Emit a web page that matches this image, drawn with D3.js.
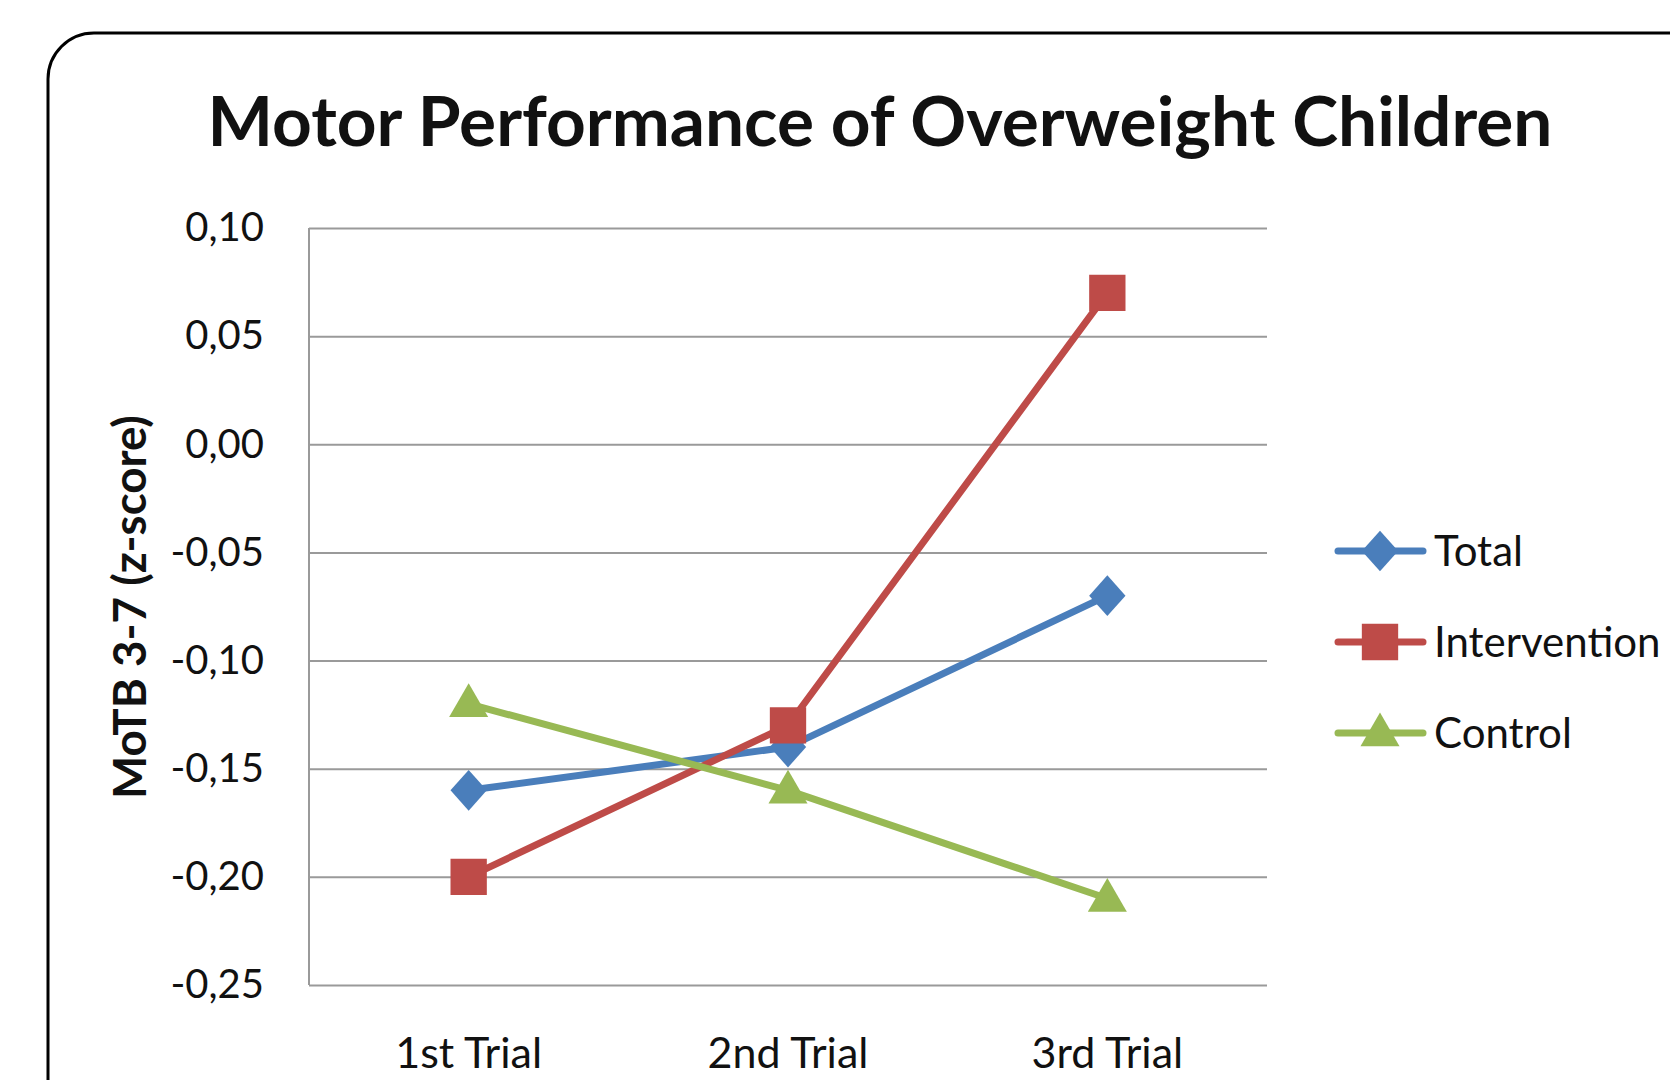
<!DOCTYPE html>
<html>
<head>
<meta charset="utf-8">
<script src="https://cdn.jsdelivr.net/npm/d3@7"></script>
<style>
  body { margin: 0; background: #fff; }
  text { font-family: Lato, "Open Sans", sans-serif; fill: #111; }
</style>
</head>
<body>
<div id="chart"></div>
<script>
// Chart data
const trials = ["1st Trial", "2nd Trial", "3rd Trial"];
const totalValues = [-0.16, -0.14, -0.07];
const interventionValues = [-0.20, -0.13, 0.07];
const controlValues = [-0.12, -0.16, -0.21];
const yTicks = [-0.25, -0.20, -0.15, -0.10, -0.05, 0.00, 0.05, 0.10];

const seriesNames = ["Total", "Intervention", "Control"];
const seriesValues = [totalValues, interventionValues, controlValues];
const seriesColors = ["#4A7EBB", "#BE4B48", "#98B954"];
const seriesShapes = ["diamond", "square", "triangle"];

const width = 1670;
const height = 1080;
const plot = { left: 309, right: 1267, top: 228, bottom: 985 };

const svg = d3.select("#chart").append("svg")
    .attr("width", width)
    .attr("height", height);

// outer rounded frame (only top-left corner visible)
svg.append("rect")
    .attr("x", 48).attr("y", 33)
    .attr("width", 1800).attr("height", 1300)
    .attr("rx", 46)
    .attr("fill", "none")
    .attr("stroke", "#000")
    .attr("stroke-width", 3);

const x = d3.scalePoint().domain(trials).range([plot.left, plot.right]).padding(0.5);
const y = d3.scaleLinear().domain([-0.25, 0.10]).range([plot.bottom, plot.top]);

const fmt = v => (v < -1e-9 ? "-" : "") + Math.abs(v).toFixed(2).replace(".", ",");

// gridlines + y labels
const yAxis = svg.append("g")
    .attr("transform", `translate(${plot.left},0)`)
    .call(d3.axisLeft(y).tickValues(yTicks).tickSize(-(plot.right - plot.left)).tickFormat(fmt).tickPadding(45));
yAxis.select(".domain").remove();
yAxis.selectAll(".tick line").attr("stroke", "#9a9a9a").attr("stroke-width", 2);
yAxis.selectAll(".tick text")
    .style("font-size", "40px")
    .style("font-family", "Lato, sans-serif")
    .attr("fill", "#222");

// left axis line
svg.append("line")
    .attr("x1", plot.left).attr("x2", plot.left)
    .attr("y1", plot.top).attr("y2", plot.bottom)
    .attr("stroke", "#9a9a9a").attr("stroke-width", 2);

// x labels
svg.append("g").selectAll("text")
    .data(trials)
    .join("text")
    .attr("x", d => x(d))
    .attr("y", 1068)
    .attr("text-anchor", "middle")
    .style("font-size", "43px")
    .text(d => d);

// marker shapes
function marker(shape) {
    if (shape === "square") return d3.symbol().type(d3.symbolSquare).size(1320)();
    if (shape === "triangle") return d3.symbol().type(d3.symbolTriangle).size(660)();
    return d3.symbol().type(d3.symbolSquare).size(660)();
}
function markerTransform(shape, cx, cy) {
    if (shape === "diamond") return `translate(${cx},${cy}) scale(1,1.12) rotate(45)`;
    if (shape === "triangle") return `translate(${cx},${cy + 2})`;
    return `translate(${cx},${cy})`;
}

const line = d3.line().x((d, i) => x(trials[i])).y(d => y(d));

seriesValues.forEach((vals, s) => {
    const g = svg.append("g");
    g.append("path")
        .datum(vals)
        .attr("d", line)
        .attr("fill", "none")
        .attr("stroke", seriesColors[s])
        .attr("stroke-width", 7)
        .attr("stroke-linejoin", "round");
    g.selectAll("path.mk")
        .data(vals)
        .join("path")
        .attr("class", "mk")
        .attr("d", marker(seriesShapes[s]))
        .attr("transform", (d, i) => markerTransform(seriesShapes[s], x(trials[i]), y(d)))
        .attr("fill", seriesColors[s]);
});

// legend
const legendY = [551, 642, 733];
seriesNames.forEach((name, s) => {
    const g = svg.append("g").attr("transform", `translate(0,${legendY[s]})`);
    g.append("line")
        .attr("x1", 1338).attr("x2", 1423)
        .attr("stroke", seriesColors[s])
        .attr("stroke-width", 7)
        .attr("stroke-linecap", "round");
    g.append("path")
        .attr("d", marker(seriesShapes[s]))
        .attr("transform", markerTransform(seriesShapes[s], 1380, 0))
        .attr("fill", seriesColors[s]);
    g.append("text")
        .attr("x", 1434)
        .attr("dy", "0.36em")
        .style("font-size", "42px")
        .text(name);
});

// title, sized to the reference width
const title = svg.append("text")
    .attr("x", 880)
    .attr("y", 146)
    .attr("text-anchor", "middle")
    .style("font-size", "70px")
    .style("font-weight", "bold")
    .attr("fill", "#000")
    .text("Motor Performance of Overweight Children");
const tw = title.node().getComputedTextLength();
title.style("font-size", (70 * 1345 / tw) + "px");

// y axis title
const yTitle = svg.append("text")
    .attr("transform", "translate(146,607) rotate(-90)")
    .attr("text-anchor", "middle")
    .style("font-size", "34px")
    .style("font-weight", "bold")
    .attr("fill", "#000")
    .text("MoTB 3-7 (z-score)");
const yw = yTitle.node().getComputedTextLength();
yTitle.style("font-size", (34 * 384 / yw) + "px");
</script>
</body>
</html>
